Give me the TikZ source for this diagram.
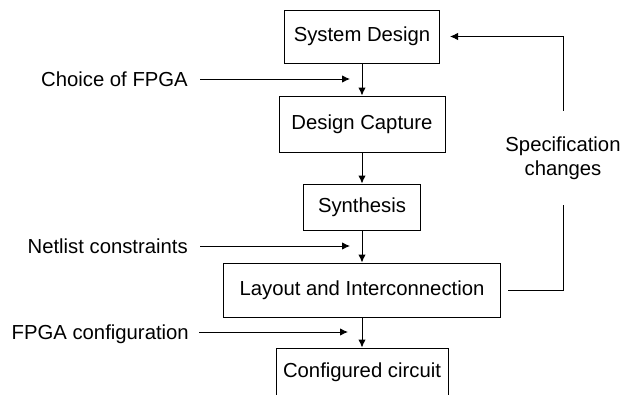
\documentclass[tikz,border=0pt]{standalone}
\usepackage{fontspec}
\setmainfont{Liberation Sans}
\usetikzlibrary{arrows.meta}

\tikzset{
  stage/.style={draw, line width=1pt, inner sep=0pt},
  input/.style={anchor=east, inner sep=0pt, text height=14.5pt, text depth=0pt},
  flow/.style={-{Latex[length=8pt,width=7.5pt]}, line width=1pt},
}

\begin{document}
\begin{tikzpicture}[x=1pt, y=-1pt, font=\fontsize{20.3}{24}\selectfont]
\clip (0,0) rectangle (631,394);
% design stages
\node[stage, minimum width=155pt, minimum height=53pt] (sysdesign) at (362,36.5) {System Design};
\node[stage, minimum width=166pt, minimum height=56pt] (capture) at (362,124) {Design Capture};
\node[stage, minimum width=117pt, minimum height=46pt] (synth) at (362,207) {Synthesis};
\node[stage, minimum width=277pt, minimum height=54pt] (layout) at (362,290) {Layout and Interconnection};
\node[stage, minimum width=172pt, minimum height=48pt] (config) at (362,372) {Configured circuit};
% inputs on the left
\node[input] (choice) at (188,79) {Choice of FPGA};
\node[input] (netlist) at (188,246) {Netlist constraints};
\node[input] (fpgacfg) at (189,332) {FPGA configuration};
% feedback label
\node[align=center, inner sep=0pt, minimum height=94pt] (spec) at (563,158) {Specification\\changes};

\draw[flow] (sysdesign) -- (capture);
\draw[flow] (capture) -- (synth);
\draw[flow] (synth) -- (layout);
\draw[flow] (layout) -- (config);

\draw[flow] ([xshift=12pt]choice.east) -- ++(150,0);
\draw[flow] ([xshift=12pt]netlist.east) -- ++(150,0);
\draw[flow] ([xshift=10pt]fpgacfg.east) -- ++(149,0);

\draw[line width=1pt] ([xshift=7pt]layout.east) -| (spec.south);
\draw[flow] (spec.north) |- ([xshift=10pt]sysdesign.east);
\end{tikzpicture}
\end{document}
